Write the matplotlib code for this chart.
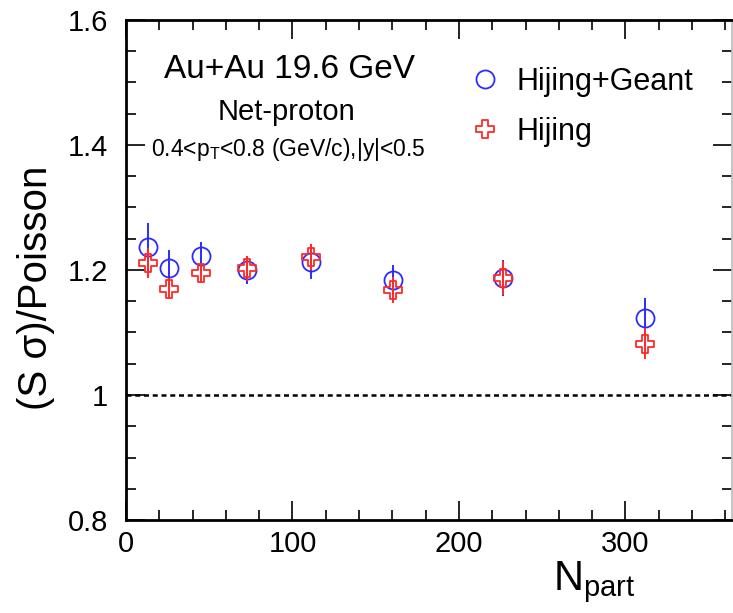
import matplotlib
matplotlib.use("Agg")
import matplotlib.pyplot as plt
from matplotlib.path import Path
from matplotlib.lines import Line2D
from matplotlib.ticker import MultipleLocator, FixedFormatter, FixedLocator

plt.rcParams['font.family'] = ['Liberation Sans', 'DejaVu Sans']
plt.rcParams['mathtext.fontset'] = 'custom'
plt.rcParams['mathtext.rm'] = 'Liberation Sans'
plt.rcParams['mathtext.it'] = 'Liberation Sans:italic'

# ---- data ----
npart = [13.4, 25.8, 44.9, 72.9, 110.9, 160.2, 226.6, 311.7]
geant_vals = [1.237, 1.204, 1.222, 1.200, 1.213, 1.184, 1.187, 1.123]
geant_errs = [0.038, 0.028, 0.023, 0.022, 0.027, 0.024, 0.029, 0.032]
hijing_vals = [1.211, 1.170, 1.195, 1.203, 1.221, 1.168, 1.187, 1.082]
hijing_errs = [0.024, 0.017, 0.016, 0.020, 0.021, 0.021, 0.027, 0.025]
x_ticks = [0, 100, 200, 300]
y_ticks = [0.8, 1.0, 1.2, 1.4, 1.6]
y_tick_labels = ['0.8', '1', '1.2', '1.4', '1.6']
legend_labels = ['Hijing+Geant', 'Hijing']

BLUE = '#2b2bff'
RED = '#ff2a2a'

t = 0.36
cross = Path([(-t, 1), (t, 1), (t, t), (1, t), (1, -t), (t, -t), (t, -1), (-t, -1),
              (-t, -t), (-1, -t), (-1, t), (-t, t), (-t, 1)],
             [Path.MOVETO] + [Path.LINETO] * 11 + [Path.CLOSEPOLY])

W, H = 733, 613
fig = plt.figure(figsize=(W / 100, H / 100), dpi=100)
AX_L, AX_B, AX_W, AX_H = 126, 93, 606, 500
ax = fig.add_axes([AX_L / W, AX_B / H, AX_W / W, AX_H / H])


def ax_frac(px, py):
    return (px - AX_L) / AX_W, (H - py - AX_B) / AX_H


ax.axhline(1.0, color='black', lw=1.8, ls=(0, (2.0, 1.5)), zorder=1)

ax.errorbar(npart, geant_vals, yerr=geant_errs, fmt='o', ms=13, mfc='none', mec=BLUE,
            mew=1.3, ecolor=BLUE, elinewidth=1.4, capsize=0, zorder=3)
ax.errorbar(npart, hijing_vals, yerr=hijing_errs, fmt='none', ecolor=RED,
            elinewidth=1.4, capsize=0, zorder=4)
ax.plot(npart, hijing_vals, ls='none', marker=cross, ms=12.5, mfc='none', mec=RED,
        mew=1.3, zorder=5)

ax.set_xlim(0, 364)
ax.set_ylim(0.8, 1.6)
ax.xaxis.set_major_locator(FixedLocator(x_ticks))
ax.xaxis.set_minor_locator(MultipleLocator(20))
ax.yaxis.set_major_locator(FixedLocator(y_ticks))
ax.yaxis.set_major_formatter(FixedFormatter(y_tick_labels))
ax.yaxis.set_minor_locator(MultipleLocator(0.05))

ax.tick_params(which='both', direction='in', top=True, right=True, colors='black',
               width=1.2)
ax.tick_params(which='major', length=14, labelsize=21)
ax.tick_params(which='minor', length=7)
ax.tick_params(axis='y', which='major', pad=13)
ax.tick_params(axis='x', which='major', pad=7)

for side in ['left', 'bottom', 'top']:
    ax.spines[side].set_linewidth(2)
ax.spines['right'].set_linewidth(1.2)
ax.spines['right'].set_color('#bbbbbb')

ax.set_ylabel('(S σ)/Poisson', fontsize=29)
ax.yaxis.set_label_coords(*ax_frac(55, 288))
ax.text(*ax_frac(636, 590), r'N$_{\rm part}$', transform=ax.transAxes,
        ha='right', va='baseline', fontsize=30)

ax.text(*ax_frac(290, 70), 'Au+Au 19.6 GeV', transform=ax.transAxes,
        ha='center', va='center', fontsize=24)
ax.text(*ax_frac(286, 112), 'Net-proton', transform=ax.transAxes,
        ha='center', va='center', fontsize=21)
ax.text(*ax_frac(151, 150), r'0.4<p$_{\rm T}$<0.8 (GeV/c),|y|<0.5',
        transform=ax.transAxes, ha='left', va='center', fontsize=16.5)

handles = [Line2D([], [], ls='none', marker='o', ms=13, mfc='none', mec=BLUE, mew=1.3),
           Line2D([], [], ls='none', marker=cross, ms=12.5, mfc='none', mec=RED, mew=1.3)]
ax.legend(handles, legend_labels, loc='upper left',
          bbox_to_anchor=ax_frac(470, 67),
          frameon=False, fontsize=22, handletextpad=0.52, labelspacing=0.65,
          handlelength=1.0, borderaxespad=0, borderpad=0)

fig.savefig('out.png', dpi=100)
